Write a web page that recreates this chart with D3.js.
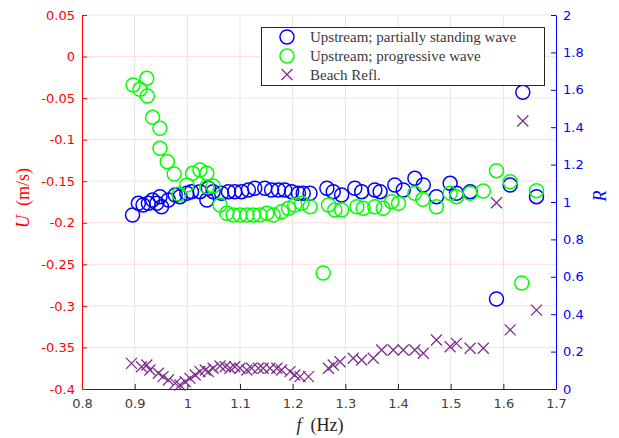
<!DOCTYPE html>
<html>
<head>
<meta charset="utf-8">
<script src="https://cdn.jsdelivr.net/npm/d3@7"></script>
<style>
  html, body { margin: 0; padding: 0; background: #fff; }
  svg { display: block; }
</style>
</head>
<body>
<svg id="chart" width="619" height="438"></svg>
<script>
// ---------- data ----------
const fBlue = [0.896,0.907,0.916,0.926,0.934,0.942,0.948,0.951,0.964,0.977,0.986,0.999,1.008,1.024,1.037,1.040,1.049,1.065,1.078,1.090,1.103,1.116,1.128,1.147,1.160,1.173,1.185,1.198,1.211,1.220,1.233,1.265,1.277,1.293,1.318,1.331,1.356,1.366,1.394,1.410,1.432,1.448,1.473,1.499,1.511,1.537,1.587,1.613,1.637,1.663];
const uBlue = [-0.1906,-0.1766,-0.1786,-0.1766,-0.1726,-0.1766,-0.1686,-0.1807,-0.1726,-0.1666,-0.1686,-0.1645,-0.1626,-0.1626,-0.1726,-0.1585,-0.1626,-0.1645,-0.1626,-0.1626,-0.1626,-0.1606,-0.1585,-0.1585,-0.1606,-0.1606,-0.1606,-0.1626,-0.1645,-0.1645,-0.1645,-0.1585,-0.1626,-0.1666,-0.1585,-0.1626,-0.1606,-0.1626,-0.1545,-0.1606,-0.1465,-0.1545,-0.1686,-0.1525,-0.1645,-0.1626,-0.2917,-0.1545,-0.0430,-0.1686];

const fGreen = [0.897,0.910,0.923,0.924,0.934,0.948,0.948,0.962,0.975,0.984,0.999,1.010,1.024,1.037,1.037,1.049,1.062,1.075,1.087,1.100,1.113,1.125,1.138,1.151,1.163,1.179,1.192,1.204,1.217,1.233,1.258,1.268,1.280,1.293,1.322,1.334,1.356,1.372,1.388,1.401,1.432,1.447,1.473,1.499,1.511,1.537,1.562,1.587,1.613,1.635,1.663];
const uGreen = [-0.0342,-0.0394,-0.0262,-0.0475,-0.0731,-0.0863,-0.1104,-0.1265,-0.1413,-0.1654,-0.1545,-0.1405,-0.1365,-0.1405,-0.1566,-0.1558,-0.1786,-0.1886,-0.1906,-0.1906,-0.1906,-0.1906,-0.1906,-0.1886,-0.1906,-0.1867,-0.1826,-0.1786,-0.1766,-0.1807,-0.2604,-0.1786,-0.1846,-0.1846,-0.1807,-0.1826,-0.1807,-0.1826,-0.1746,-0.1766,-0.1645,-0.1718,-0.1807,-0.1645,-0.1686,-0.1645,-0.1618,-0.1373,-0.1506,-0.2725,-0.1614];

const fRefl = [0.894,0.913,0.923,0.929,0.945,0.954,0.964,0.977,0.986,0.996,1.005,1.015,1.024,1.034,1.040,1.049,1.062,1.072,1.081,1.090,1.100,1.113,1.122,1.135,1.144,1.157,1.170,1.179,1.195,1.204,1.214,1.230,1.268,1.277,1.290,1.315,1.331,1.353,1.369,1.391,1.410,1.432,1.448,1.473,1.499,1.511,1.537,1.562,1.587,1.613,1.637,1.663];
const rRefl = [0.137,0.119,0.128,0.102,0.084,0.066,0.048,0.030,0.021,0.039,0.057,0.075,0.093,0.102,0.093,0.111,0.123,0.119,0.111,0.119,0.111,0.102,0.111,0.111,0.111,0.111,0.111,0.102,0.093,0.075,0.066,0.066,0.111,0.128,0.146,0.164,0.155,0.164,0.209,0.209,0.209,0.209,0.191,0.262,0.226,0.244,0.218,0.218,0.996,0.316,1.433,0.422];

const xTicks = [0.8,0.9,1.0,1.1,1.2,1.3,1.4,1.5,1.6,1.7];
const xTickLabels = ["0.8","0.9","1","1.1","1.2","1.3","1.4","1.5","1.6","1.7"];
const uTicks = [0.05,0,-0.05,-0.1,-0.15,-0.2,-0.25,-0.3,-0.35,-0.4];
const uTickLabels = ["0.05","0","-0.05","-0.1","-0.15","-0.2","-0.25","-0.3","-0.35","-0.4"];
const rTicks = [0,0.2,0.4,0.6,0.8,1,1.2,1.4,1.6,1.8,2];
const rTickLabels = ["0","0.2","0.4","0.6","0.8","1","1.2","1.4","1.6","1.8","2"];
const legendLabels = ["Upstream; partially standing wave","Upstream; progressive wave","Beach Refl."];

// ---------- layout ----------
const L = 82, R = 556, T = 15, B = 389;
const svg = d3.select("#chart");
const x = d3.scaleLinear().domain([0.8,1.7]).range([L,R]);
const yU = d3.scaleLinear().domain([-0.4,0.05]).range([B,T]);
const yR = d3.scaleLinear().domain([0,2]).range([B,T]);

const cRed = "#ff0000", cBlue = "#0000ff", cGreen = "#00ff00", cPurple = "#7e2f8e", cDark = "#262626";
const tickFont = "'DejaVu Sans', sans-serif";
const serif = "'Liberation Serif', 'DejaVu Serif', serif";

// grid
const grid = svg.append("g");
grid.selectAll("line.v").data(xTicks.slice(1,-1)).enter().append("line")
  .attr("x1", d=>x(d)).attr("x2", d=>x(d)).attr("y1", T).attr("y2", B)
  .attr("stroke", "#e3e3e3").attr("stroke-width", 1);
grid.selectAll("line.h").data(uTicks.slice(0,-1)).enter().append("line")
  .attr("x1", L).attr("x2", R).attr("y1", d=>yU(d)).attr("y2", d=>yU(d))
  .attr("stroke", "#ffdede").attr("stroke-width", 1);

// axes
const axB = svg.append("g").attr("transform", `translate(0,${B})`)
  .call(d3.axisBottom(x).tickValues(xTicks).tickFormat((d,i)=>xTickLabels[i]).tickSizeInner(-5).tickSizeOuter(0).tickPadding(10));
axB.select(".domain").attr("stroke", cDark);
axB.selectAll(".tick line").attr("stroke", cDark);
axB.selectAll(".tick text").attr("fill", "#404040").style("font", `13px ${tickFont}`);

const axL = svg.append("g").attr("transform", `translate(${L},0)`)
  .call(d3.axisLeft(yU).tickValues(uTicks).tickFormat((d,i)=>uTickLabels[i]).tickSizeInner(-5).tickSizeOuter(0).tickPadding(7));
axL.select(".domain").attr("stroke", cRed);
axL.selectAll(".tick line").attr("stroke", cRed);
axL.selectAll(".tick text").attr("fill", cRed).style("font", `13px ${tickFont}`);

const axR = svg.append("g").attr("transform", `translate(${R},0)`)
  .call(d3.axisRight(yR).tickValues(rTicks).tickFormat((d,i)=>rTickLabels[i]).tickSizeInner(-5).tickSizeOuter(0).tickPadding(7));
axR.select(".domain").attr("stroke", cBlue);
axR.selectAll(".tick line").attr("stroke", cBlue);
axR.selectAll(".tick text").attr("fill", cBlue).style("font", `13px ${tickFont}`);

// axis labels
const ul = svg.append("text").attr("transform", "translate(29,198) rotate(-90)")
  .attr("text-anchor", "middle").attr("fill", cRed).style("font", `18px ${serif}`);
ul.append("tspan").attr("font-style", "italic").text("U");
ul.append("tspan").text("\u2002(m/s)");

svg.append("text").attr("transform", "translate(606,196) rotate(-90)")
  .attr("text-anchor", "middle").attr("fill", cBlue)
  .style("font", `italic 18px ${serif}`).text("R");

const xl = svg.append("text").attr("x", 320).attr("y", 431)
  .attr("text-anchor", "middle").attr("fill", "#262626").style("font", `18px ${serif}`);
xl.append("tspan").attr("font-style", "italic").text("f");
xl.append("tspan").text("\u2002(Hz)");

// data
const plot = svg.append("g");
const rad = 7;
function circles(fs, us, color) {
  plot.append("g").selectAll("circle").data(fs).enter().append("circle")
    .attr("cx", d=>x(d)).attr("cy", (d,i)=>yU(us[i])).attr("r", rad)
    .attr("fill", "none").attr("stroke", color).attr("stroke-width", 1.5);
}
circles(fBlue, uBlue, cBlue);
circles(fGreen, uGreen, cGreen);

const s = 5.5;
plot.append("g").selectAll("path").data(fRefl).enter().append("path")
  .attr("d", (d,i)=>{ const cx = x(d), cy = yR(rRefl[i]);
    return `M${cx-s},${cy-s}L${cx+s},${cy+s}M${cx-s},${cy+s}L${cx+s},${cy-s}`; })
  .attr("fill", "none").attr("stroke", cPurple).attr("stroke-width", 1.3);

// legend
const lg = svg.append("g");
lg.append("rect").attr("x", 261.5).attr("y", 27.5).attr("width", 283).attr("height", 58)
  .attr("fill", "#fff").attr("stroke", cDark).attr("stroke-width", 1);
const rows = [37, 56, 74.5];
const colors = [cBlue, cGreen, cPurple];
legendLabels.forEach((lab, i) => {
  const cy = rows[i], cx = 287;
  if (i < 2) {
    lg.append("circle").attr("cx", cx).attr("cy", cy).attr("r", rad)
      .attr("fill", "none").attr("stroke", colors[i]).attr("stroke-width", 1.5);
  } else {
    lg.append("path").attr("d", `M${cx-s},${cy-s}L${cx+s},${cy+s}M${cx-s},${cy+s}L${cx+s},${cy-s}`)
      .attr("stroke", colors[i]).attr("stroke-width", 1.3).attr("fill", "none");
  }
  lg.append("text").attr("x", 310).attr("y", cy + 5).attr("fill", "#3a3a3a")
    .style("font", `15px ${serif}`).text(lab);
});
</script>
</body>
</html>
